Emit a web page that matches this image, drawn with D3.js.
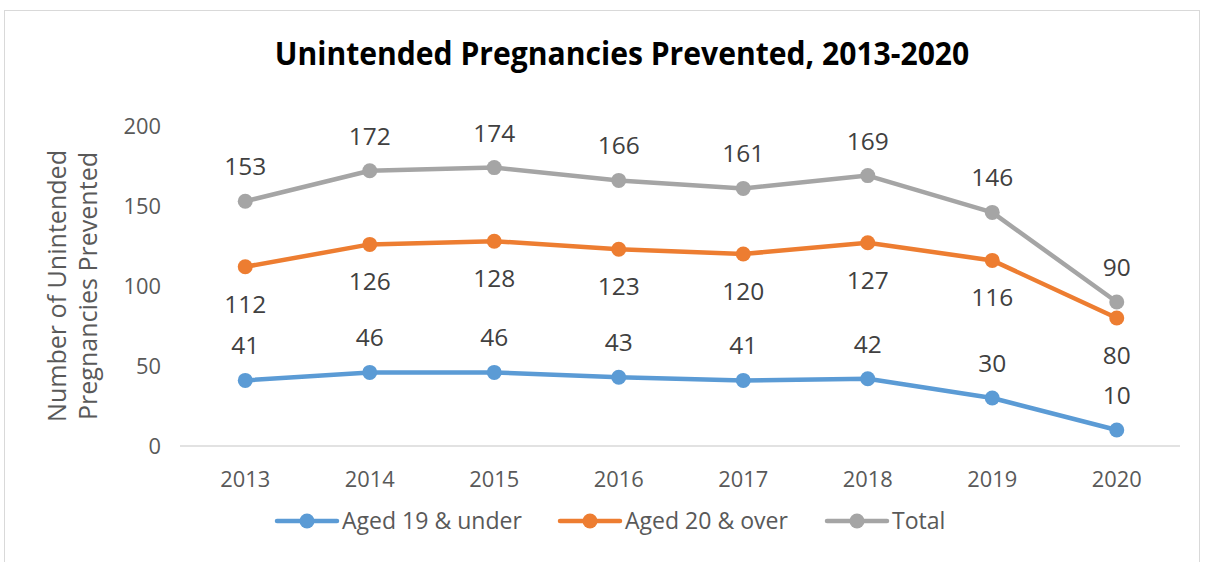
<!DOCTYPE html>
<html><head><meta charset="utf-8">
<script src="https://cdn.jsdelivr.net/npm/d3@7"></script>
<style>
body{margin:0;background:#fff;}
svg{display:block;}
</style></head>
<body><svg id="c" width="1209" height="562"></svg>
<script>
const years = ["2013","2014","2015","2016","2017","2018","2019","2020"];
const under19 = [41,46,46,43,41,42,30,10];
const over20 = [112,126,128,123,120,127,116,80];
const total = [153,172,174,166,161,169,146,90];
const seriesNames = ["Aged 19 & under","Aged 20 & over","Total"];
const yTicks = [0,50,100,150,200];
const titleText = "Unintended Pregnancies Prevented, 2013-2020";
const yTitleLines = ["Number of Unintended","Pregnancies Prevented"];

const colors = ["#5B9BD5","#ED7D31","#A5A5A5"];
const txt = "#595959";
const font = "'Open Sans', 'Segoe UI', sans-serif";

const svg = d3.select("#c");
svg.append("rect").attr("x",4.5).attr("y",10.5).attr("width",1195).attr("height",570)
  .attr("fill","#fff").attr("stroke","#d9d9d9").attr("stroke-width",1);

function fit(text, target, family, weight){
  const tmp = svg.append("text").attr("font-family",family).attr("font-weight",weight||"normal")
    .attr("font-size",20).text(text);
  const w = tmp.node().getComputedTextLength();
  tmp.remove();
  return 20*target/w;
}
const fsTick = fit("2013",50,font);
const fsLabel = fit("153",42,font);
const fsLegend = fit("Aged 19 & under",180,font);
const fsYTitle = fit("Number of Unintended",272,font);

const x = d3.scaleBand().domain(years).range([183,1179]);
const y = d3.scaleLinear().domain([0,200]).range([446,126]);
const cx = d => x(d)+x.bandwidth()/2;

// title (condensed bold)
const tfam = "'Open Sans','DejaVu Sans',sans-serif";
const t = svg.append("text").attr("text-anchor","middle")
  .attr("font-family",tfam).attr("font-weight","bold").attr("font-size",32).attr("fill","#000").text(titleText);
const tw = t.node().getComputedTextLength();
t.attr("transform",`translate(622,65) scale(${695/tw},1)`);

// y axis
const yAxis = d3.axisLeft(y).tickValues(yTicks).tickSize(0).tickPadding(0);
const gy = svg.append("g").attr("transform","translate(161,0)").call(yAxis);
gy.select(".domain").remove();
gy.selectAll("text").attr("font-family",font).attr("font-size",fsTick).attr("fill",txt);

// x axis
const xAxis = d3.axisBottom(x).tickSize(0).tickPadding(25);
const gx = svg.append("g").attr("transform","translate(0,446)").call(xAxis);
gx.select(".domain").attr("stroke","#d9d9d9").attr("stroke-width",1.5).attr("d","M180,0H1180");
gx.selectAll("text").attr("font-family",font).attr("font-size",fsTick).attr("fill",txt);

// y title
yTitleLines.forEach((l,i)=>{
  svg.append("text").attr("transform",`translate(${66+i*31},286) rotate(-90)`)
    .attr("text-anchor","middle").attr("font-family",font).attr("font-size",fsYTitle).attr("fill",txt).text(l);
});

const data = [under19, over20, total];
const labelOff = [-26, 46, -26];
const line = d3.line().x((d,i)=>cx(years[i])).y(d=>y(d));
data.forEach((vals,si)=>{
  const g = svg.append("g");
  g.append("path").datum(vals).attr("d",line).attr("fill","none")
    .attr("stroke",colors[si]).attr("stroke-width",4.5).attr("stroke-linejoin","round").attr("stroke-linecap","round");
  g.selectAll("circle").data(vals).join("circle")
    .attr("cx",(d,i)=>cx(years[i])).attr("cy",d=>y(d)).attr("r",7.5).attr("fill",colors[si]);
  g.selectAll("text").data(vals).join("text")
    .attr("x",(d,i)=>cx(years[i])).attr("y",d=>y(d)+labelOff[si])
    .attr("text-anchor","middle").attr("font-family",font).attr("font-size",fsLabel).attr("fill","#404040")
    .text(d=>d);
});

// legend
const legX = [277, 560, 827];
seriesNames.forEach((n,i)=>{
  const g = svg.append("g").attr("transform",`translate(${legX[i]},521)`);
  g.append("line").attr("x1",0).attr("x2",60).attr("y1",0).attr("y2",0)
    .attr("stroke",colors[i]).attr("stroke-width",4.5).attr("stroke-linecap","round");
  g.append("circle").attr("cx",30).attr("cy",0).attr("r",7.5).attr("fill",colors[i]);
  g.append("text").attr("x",65).attr("y",8).attr("font-family",font).attr("font-size",fsLegend)
    .attr("fill",txt).text(n);
});
</script></body></html>
